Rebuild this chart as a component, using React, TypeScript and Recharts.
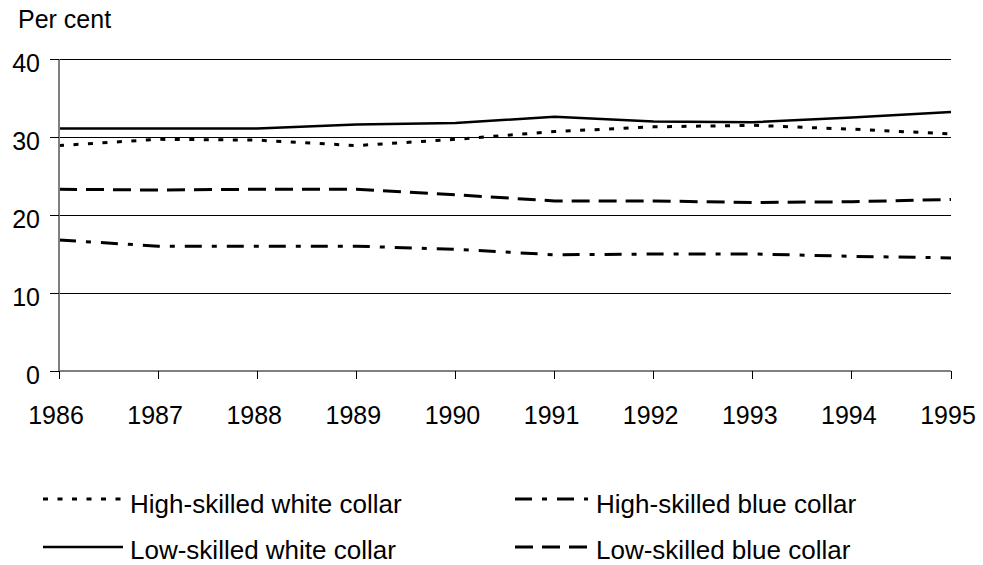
import React from "react";
import { CartesianGrid, Line, LineChart, XAxis, YAxis } from "recharts";

const years = ["1986", "1987", "1988", "1989", "1990", "1991", "1992", "1993", "1994", "1995"];
const highSkilledWhite = [28.9, 29.7, 29.6, 28.9, 29.7, 30.7, 31.3, 31.5, 31.0, 30.4];
const lowSkilledWhite = [31.1, 31.1, 31.1, 31.6, 31.8, 32.6, 32.0, 31.9, 32.5, 33.2];
const highSkilledBlue = [16.8, 16.0, 16.0, 16.0, 15.6, 14.9, 15.0, 15.0, 14.7, 14.5];
const lowSkilledBlue = [23.3, 23.2, 23.3, 23.3, 22.6, 21.8, 21.8, 21.6, 21.7, 22.0];
const yTicks = [0, 10, 20, 30, 40];

const FONT = "'Liberation Sans', Arial, sans-serif";

type SeriesDef = {
  key: string;
  name: string;
  dash?: string;
  width: number;
};

const seriesDefs: SeriesDef[] = [
  { key: "highWhite", name: "High-skilled white collar", dash: "5 9.5", width: 3 },
  { key: "lowWhite", name: "Low-skilled white collar", width: 2.5 },
  { key: "highBlue", name: "High-skilled blue collar", dash: "17 10 5 10", width: 3 },
  { key: "lowBlue", name: "Low-skilled blue collar", dash: "18 9", width: 3 }
];

// legend order: column 1 then column 2, row by row
const legendGrid = [
  ["highWhite", "highBlue"],
  ["lowWhite", "lowBlue"]
];

const data = years.map((year, i) => ({
  year,
  highWhite: highSkilledWhite[i],
  lowWhite: lowSkilledWhite[i],
  highBlue: highSkilledBlue[i],
  lowBlue: lowSkilledBlue[i]
}));

function YTick({ x, y, payload }: any) {
  return (
    <text x={x} y={y + 13} textAnchor="end" fontFamily={FONT} fontSize={25} fill="#000">
      {payload.value}
    </text>
  );
}

function XTick({ x, y, payload }: any) {
  return (
    <text x={x - 3} y={y + 45} textAnchor="middle" fontFamily={FONT} fontSize={25} fill="#000">
      {payload.value}
    </text>
  );
}

function Legend() {
  const colX = [{ line: 43, lineEnd: 123, text: 130 }, { line: 515, lineEnd: 588, text: 596 }];
  const rowY = [{ line: 499, text: 513 }, { line: 547, text: 559 }];
  return (
    <svg width={983} height={565} style={{ position: "absolute", left: 0, top: 0, pointerEvents: "none" }}>
      <text x={18} y={28} fontFamily={FONT} fontSize={25} fill="#000">
        Per cent
      </text>
      {legendGrid.map((row, r) =>
        row.map((key, c) => {
          const def = seriesDefs.find((s) => s.key === key)!;
          return (
            <g key={key}>
              <line
                x1={colX[c].line}
                x2={colX[c].lineEnd}
                y1={rowY[r].line}
                y2={rowY[r].line}
                stroke="#000"
                strokeWidth={def.width}
                strokeDasharray={def.dash}
              />
              <text x={colX[c].text} y={rowY[r].text} fontFamily={FONT} fontSize={26} fill="#000">
                {def.name}
              </text>
            </g>
          );
        })
      )}
    </svg>
  );
}

export default function App() {
  return (
    <div style={{ position: "absolute", left: 0, top: 0, width: 983, height: 565, background: "#fff" }}>
      <LineChart width={983} height={440} data={data} margin={{ top: 59, right: 32, bottom: 0, left: 0 }}>
        <CartesianGrid
          horizontal
          vertical={false}
          stroke="#000"
          strokeWidth={1}
          shapeRendering="crispEdges"
          horizontalValues={[10, 20, 30, 40]}
        />
        <XAxis
          dataKey="year"
          height={69}
          tickSize={8}
          tickMargin={0}
          tickLine={{ stroke: "#000", strokeWidth: 1, shapeRendering: "crispEdges" }}
          axisLine={{ stroke: "#808080", strokeWidth: 2, shapeRendering: "crispEdges" }}
          tick={<XTick />}
          interval={0}
        />
        <YAxis
          domain={[0, 40]}
          ticks={yTicks}
          width={59}
          tickSize={9}
          tickMargin={10}
          tickLine={{ stroke: "#000", strokeWidth: 1, shapeRendering: "crispEdges" }}
          axisLine={{ stroke: "#808080", strokeWidth: 1.5, shapeRendering: "crispEdges" }}
          tick={<YTick />}
          allowDataOverflow
        />
        {seriesDefs.map((s) => (
          <Line
            key={s.key}
            type="linear"
            dataKey={s.key}
            name={s.name}
            stroke="#000"
            strokeWidth={s.width}
            strokeDasharray={s.dash}
            dot={false}
            activeDot={false}
            isAnimationActive={false}
          />
        ))}
      </LineChart>
      <Legend />
    </div>
  );
}
